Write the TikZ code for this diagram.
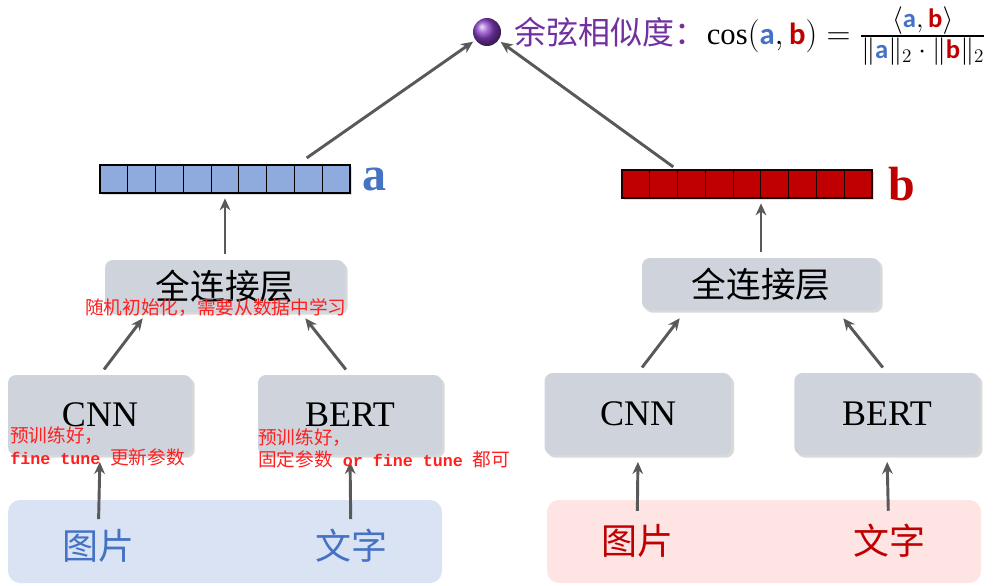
\documentclass[tikz,border=0pt]{standalone}
\usepackage{fontspec,amsmath}
\usepackage{xcolor}
\setmainfont{Liberation Serif}
\newfontfamily\cjk{Noto Sans CJK SC}
\newfontfamily\codefont{Liberation Mono}
\newfontfamily\calfont{Carlito}
\usetikzlibrary{arrows.meta,calc,positioning,shadows}
\definecolor{arrowgray}{HTML}{595959}
\definecolor{boxgray}{HTML}{CFD4DC}
\definecolor{vecblue}{HTML}{8FAADC}
\definecolor{vecred}{HTML}{C00000}
\definecolor{labblue}{HTML}{4472C4}
\definecolor{notered}{HTML}{FF1F1F}
\definecolor{titlepurple}{HTML}{7030A0}
\definecolor{ballpurple}{HTML}{8A3FC8}
\definecolor{inblue}{HTML}{DAE3F3}
\definecolor{inpink}{HTML}{FFE4E4}
\newcommand{\va}{\textcolor{labblue}{\text{\calfont\bfseries a}}}
\newcommand{\vb}{\textcolor{vecred}{\text{\calfont\bfseries b}}}
\newcommand{\codeword}[1]{{\codefont\bfseries\fontsize{12.5}{15}\selectfont #1}}
\newcommand{\fracpart}[1]{\text{\fontsize{20}{22}\selectfont$#1$}}

\begin{document}
\begin{tikzpicture}[x=0.75pt,y=-0.75pt,>={Stealth[length=9pt,width=8pt]},
 flow/.style={->,draw=arrowgray,line width=2.2pt},
 layerbox/.style={fill=boxgray,rounded corners=6pt,inner sep=0pt,
  drop shadow={opacity=0.3,shadow xshift=2pt,shadow yshift=-2pt}},
 cell/.style={draw=black,line width=0.8pt,minimum width=20.83pt,minimum height=21pt,
  inner sep=0pt,outer sep=0pt,anchor=north west,
  drop shadow={opacity=0.25,shadow xshift=1.5pt,shadow yshift=-1.5pt}},
 inputbg/.style={rounded corners=9pt,minimum width=325.5pt,minimum height=62.25pt,inner sep=0pt},
 inword/.style={font=\cjk\fontsize{27}{30}\selectfont,inner sep=0pt},
 note/.style={text=notered,font=\cjk\fontsize{14}{16.5}\selectfont,align=left,inner sep=0pt,anchor=west}]
\useasboundingbox (0,0) rectangle (994,585);

% inputs
\node[inputbg,fill=inblue] (inl) at (225,541.5) {};
\node[inputbg,fill=inpink] (inr) at (764,541.5) {};
\node[inword,text=labblue] (imgl) at (98,546) {图片};
\node[inword,text=labblue] (txtl) at (351,546) {文字};
\node[inword,text=vecred] (imgr) at (637,541) {图片};
\node[inword,text=vecred] (txtr) at (889,541) {文字};

% encoders
\node[layerbox,minimum width=138pt,minimum height=60pt,font=\fontsize{27}{30}\selectfont] (cnnl) at (100,415) {CNN};
\node[layerbox,minimum width=138pt,minimum height=60pt,font=\fontsize{27}{30}\selectfont] (bertl) at (350,415) {BERT};
\node[layerbox,minimum width=140pt,minimum height=61.5pt,font=\fontsize{27}{30}\selectfont] (cnnr) at (638,414) {CNN};
\node[layerbox,minimum width=139pt,minimum height=61.5pt,font=\fontsize{27}{30}\selectfont] (bertr) at (887,414) {BERT};

% fully connected layers
\node[layerbox,minimum width=180pt,minimum height=39pt,font=\cjk\fontsize{26}{30}\selectfont] (fcl) at (225,286) {全连接层};
\node[layerbox,minimum width=178.5pt,minimum height=39pt,font=\cjk\fontsize{26}{30}\selectfont] (fcr) at (761,284) {全连接层};

% vectors
\foreach \i in {0,...,8} {
 \node[cell,fill=vecblue] (a\i) at ({100+27.78*\i},165) {};
 \node[cell,fill=vecred,draw=black!85!vecred] (b\i) at ({622+27.78*\i},170) {};
}
\node[right=9pt of a8,text=labblue,font=\bfseries\fontsize{36}{40}\selectfont,inner sep=0pt] {a};
\node[right=12pt of b8,text=vecred,font=\bfseries\fontsize{36}{40}\selectfont,inner sep=0pt] {b};

% similarity
\node[circle,minimum size=21pt,inner sep=0pt,shading=ball,ball color=ballpurple] (ball) at (487,32) {};
\node[right=10pt of ball,yshift=-3pt,inner sep=0pt,font=\fontsize{23}{26}\selectfont] (sim)
 {{\color{titlepurple}\cjk\fontsize{24}{28}\selectfont 余弦相似度：}%
  $\cos(\va,\vb)=\frac{\fracpart{\langle\va,\vb\rangle}}{\fracpart{\|\va\|_2\cdot\|\vb\|_2}}$};

% connectors
\draw[flow,shorten <=7.5pt,shorten >=5pt] (imgl) -- (cnnl.south);
\draw[flow,shorten <=7.5pt,shorten >=5pt] (txtl) -- (bertl.south);
\draw[flow,shorten <=10pt,shorten >=5pt] (imgr) -- (cnnr.south);
\draw[flow,shorten <=10pt,shorten >=5pt] (txtr) -- (bertr.south);
\draw[flow,shorten <=5pt] (cnnl.north) -- ($(fcl.south west)+(38,6)$);
\draw[flow,shorten <=5pt] (bertl.north) -- ($(fcl.south east)+(-40,6)$);
\draw[flow,shorten <=5pt] (cnnr.north) -- ($(fcr.south west)+(38,8)$);
\draw[flow,shorten <=5pt] (bertr.north) -- ($(fcr.south east)+(-37,8)$);
\draw[flow,shorten <=4pt,shorten >=4pt] (fcl.north) -- (fcl.north |- a4.south);
\draw[flow,shorten <=4pt,shorten >=4pt] (fcr.north) -- (fcr.north |- b4.south);
\draw[flow,shorten <=4pt,shorten >=2pt] ($(a7.north)+(-6,-4)$) -- (ball);
\draw[flow,shorten <=4pt,shorten >=2pt] (b2.north west) -- (ball);

% notes
\node[note] (notefc) at (85,308) {随机初始化，需要从数据中学习};
\node[note] (notecnn) at (10,446) {预训练好，\\\codeword{fine tune }更新参数};
\node[note] (notebert) at (258,448) {预训练好，\\固定参数\codeword{ or fine tune }都可};
\end{tikzpicture}
\end{document}
